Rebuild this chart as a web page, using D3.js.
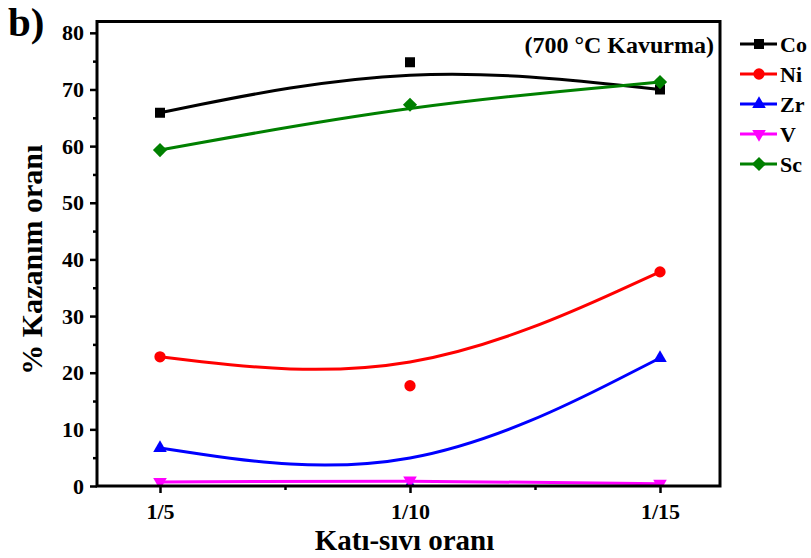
<!DOCTYPE html>
<html>
<head>
<meta charset="utf-8">
<script src="https://cdn.jsdelivr.net/npm/d3@7"></script>
<style>
  body { margin: 0; background: #fff; }
  text { font-family: "Liberation Serif", "Times New Roman", serif; font-weight: bold; fill: #000; }
</style>
</head>
<body>
<div id="chart-area"></div>
<script>
// data
var categories = ['1/5', '1/10', '1/15'];
var coValues = [65.9, 74.8, 70.0];
var niValues = [22.8, 17.7, 37.8];
var zrValues = [6.7, 0.1, 22.6];
var vValues = [0.7, 1.0, 0.4];
var scValues = [59.3, 67.3, 71.3];
var seriesNames = ['Co', 'Ni', 'Zr', 'V', 'Sc'];
var yTicks = [0, 10, 20, 30, 40, 50, 60, 70, 80];

var svgWidth = 811;
var svgHeight = 558;
var margin = {left: 97, right: 91, top: 21.5, bottom: 72};
var width = svgWidth - margin.left - margin.right;
var height = svgHeight - margin.top - margin.bottom;

var series = [
  {name: seriesNames[0], values: coValues, color: '#000000', shape: d3.symbolSquare, size: 100, rot: 0},
  {name: seriesNames[1], values: niValues, color: '#ff0000', shape: d3.symbolCircle, size: 100, rot: 0},
  {name: seriesNames[2], values: zrValues, color: '#0000ff', shape: d3.symbolTriangle, size: 80, rot: 0},
  {name: seriesNames[3], values: vValues, color: '#ff00ff', shape: d3.symbolTriangle, size: 80, rot: 180},
  {name: seriesNames[4], values: scValues, color: '#008000', shape: d3.symbolSquare, size: 100, rot: 45}
];

var svg = d3.select('#chart-area')
  .append('svg')
  .attr('width', svgWidth)
  .attr('height', svgHeight);

svg.append('rect').attr('width', svgWidth).attr('height', svgHeight).attr('fill', '#fff');

var g = svg.append('g').attr('transform', 'translate(' + margin.left + ',' + margin.top + ')');

// category index -> x ; 1/5 at 160px, 1/15 at 660px
var xScale = d3.scaleLinear()
  .domain([-0.252, 2.24])
  .range([0, width]);

var yScale = d3.scaleLinear()
  .domain([0, 82])
  .range([height, 0]);

// clip to the frame
g.append('clipPath').attr('id', 'plot-clip')
  .append('rect').attr('width', width).attr('height', height);

var data = g.append('g').attr('clip-path', 'url(#plot-clip)');

var line = d3.line()
  .x(function(d, i) { return xScale(i); })
  .y(function(d) { return yScale(d); })
  .curve(d3.curveBasis);

series.forEach(function(s) {
  data.append('path')
    .attr('d', line(s.values))
    .attr('fill', 'none')
    .attr('stroke', s.color)
    .attr('stroke-width', 3);
});

series.forEach(function(s) {
  var sym = d3.symbol().type(s.shape).size(s.size);
  data.selectAll(null)
    .data(s.values)
    .enter()
    .append('path')
    .attr('d', sym)
    .attr('transform', function(d, i) {
      return 'translate(' + xScale(i) + ',' + yScale(d) + ') rotate(' + s.rot + ')';
    })
    .attr('fill', s.color);
});

// axes
var xAxis = d3.axisBottom(xScale)
  .tickValues([0, 1, 2])
  .tickFormat(function(d) { return categories[d]; })
  .tickSize(7)
  .tickPadding(10)
  .tickSizeOuter(0);

g.append('g')
  .attr('transform', 'translate(0,' + height + ')')
  .call(xAxis);

g.append('g')
  .attr('transform', 'translate(0,' + height + ')')
  .call(d3.axisBottom(xScale).tickValues([0.5, 1.5]).tickFormat('').tickSize(4).tickSizeOuter(0));

var yAxis = d3.axisLeft(yScale)
  .tickValues(yTicks)
  .tickSize(7)
  .tickPadding(6)
  .tickSizeOuter(0);

g.append('g').call(yAxis);

g.append('g')
  .call(d3.axisLeft(yScale).tickValues(yTicks.slice(0, -1).map(function(d) { return d + 5; })).tickFormat('').tickSize(4).tickSizeOuter(0));

g.selectAll('.tick line').attr('stroke', '#000').attr('stroke-width', 2.5);
g.selectAll('.domain').remove();
g.selectAll('.tick text')
  .attr('font-family', '"Liberation Serif", serif')
  .attr('font-weight', 'bold')
  .attr('font-size', '22px')
  .attr('fill', '#000');

// frame
g.append('rect')
  .attr('width', width)
  .attr('height', height)
  .attr('fill', 'none')
  .attr('stroke', '#000')
  .attr('stroke-width', 3);

// axis titles
svg.append('text')
  .attr('x', margin.left + width / 2 - 4)
  .attr('y', 550)
  .attr('text-anchor', 'middle')
  .style('font-size', '29px')
  .text('Katı-sıvı oranı');

svg.append('text')
  .attr('transform', 'translate(42,' + (margin.top + height / 2 + 6) + ') rotate(-90)')
  .attr('text-anchor', 'middle')
  .style('font-size', '30px')
  .text('% Kazanım oranı');

svg.append('text')
  .attr('x', 8)
  .attr('y', 36)
  .style('font-size', '41px')
  .text('b)');

g.append('text')
  .attr('x', width - 6)
  .attr('y', 31)
  .attr('text-anchor', 'end')
  .style('font-size', '24px')
  .text('(700 °C Kavurma)');

// legend
var legend = svg.append('g').attr('transform', 'translate(740,44)');
series.forEach(function(s, i) {
  var row = legend.append('g').attr('transform', 'translate(0,' + i * 30 + ')');
  row.append('line')
    .attr('x1', 0).attr('x2', 37)
    .attr('stroke', s.color)
    .attr('stroke-width', 3);
  row.append('path')
    .attr('d', d3.symbol().type(s.shape).size(s.size))
    .attr('transform', 'translate(19,0) rotate(' + s.rot + ')')
    .attr('fill', s.color);
  row.append('text')
    .attr('x', 40)
    .attr('dy', '0.35em')
    .style('font-size', '22px')
    .text(s.name);
});
</script>
</body>
</html>
